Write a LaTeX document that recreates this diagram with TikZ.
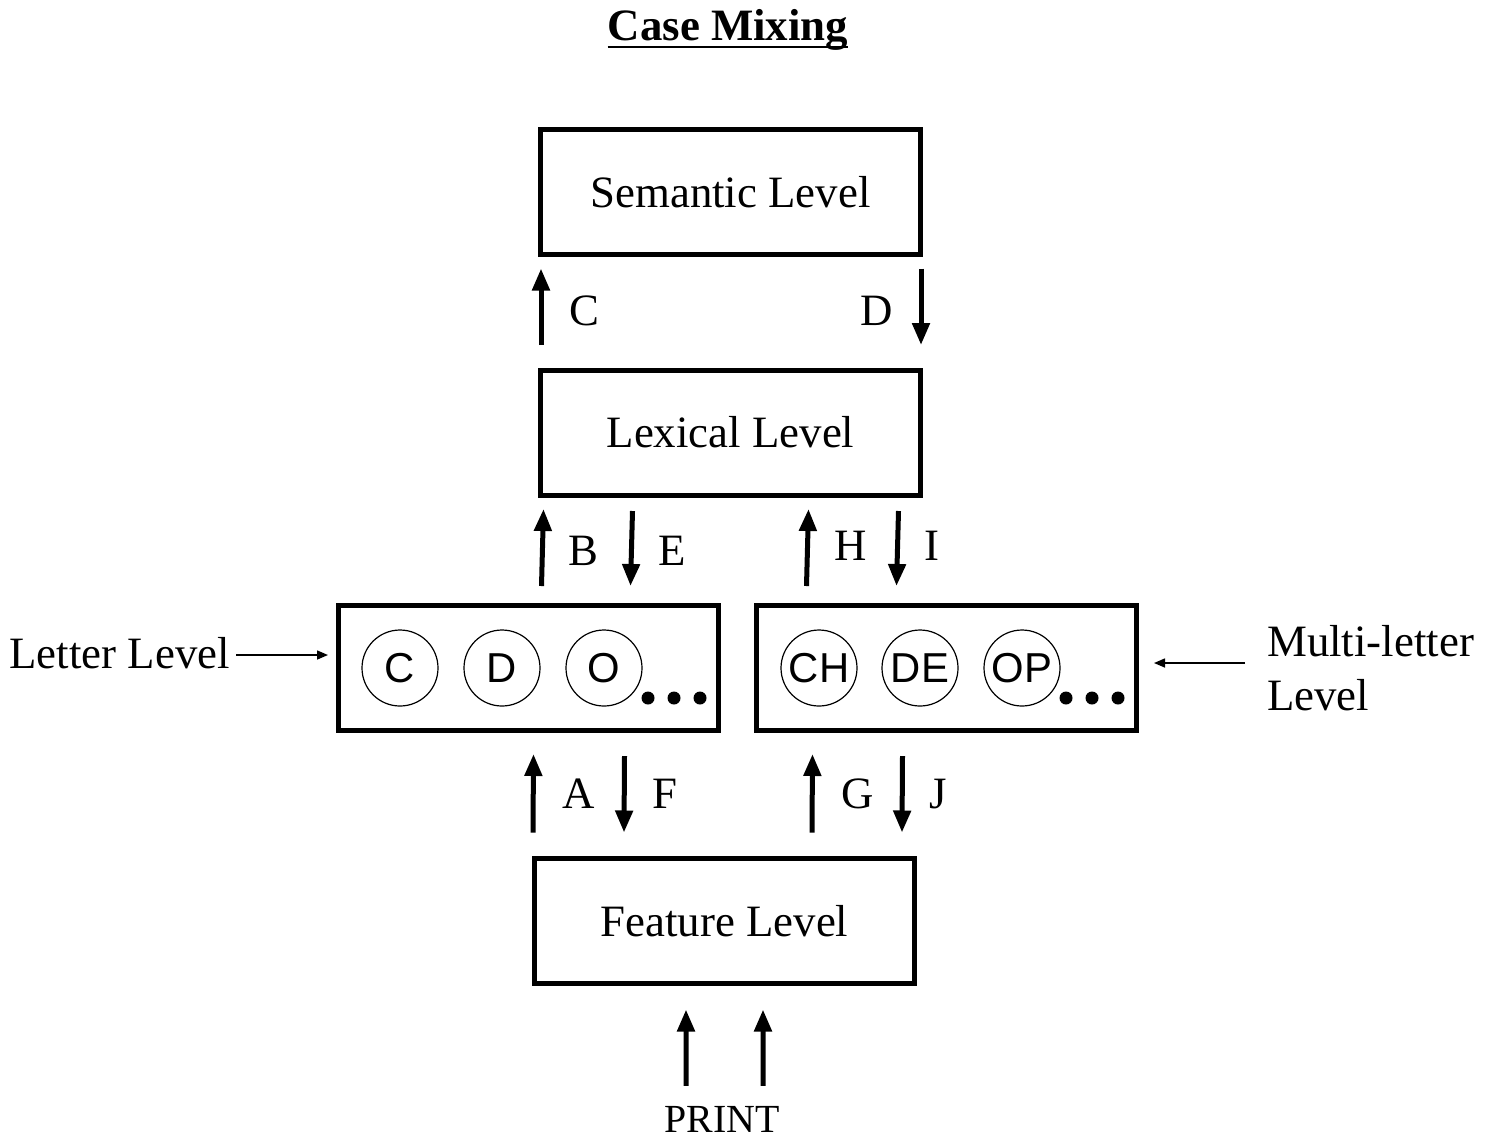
\documentclass[tikz,border=0pt]{standalone}
\usepackage{fontspec}
\setmainfont{Liberation Serif}
\newfontfamily\unitfont{Liberation Sans}
\usetikzlibrary{arrows.meta,calc}
\begin{document}
\begin{tikzpicture}[x=1bp,y=-1bp,
  level/.style={draw,line width=5bp,minimum width=380bp,minimum height=125bp,
    outer sep=0pt,inner sep=0pt,font=\fontsize{45}{48}\selectfont},
  unit/.style={draw,circle,line width=1.2bp,minimum size=76bp,inner sep=0pt,
    font=\unitfont\fontsize{42}{44}\selectfont},
  dot/.style={fill,circle,minimum size=13bp,inner sep=0pt},
  bigarrow/.style={line width=5bp,-{Triangle[width=17bp,length=22bp]}},
  thinarrow/.style={line width=1.5bp,-{Triangle[width=9bp,length=11bp]}},
  lbl/.style={inner sep=0pt,font=\fontsize{45}{48}\selectfont}]
\useasboundingbox (0,0) rectangle (1494,1139);

% title
\node[lbl,font=\bfseries\fontsize{45}{48}\selectfont,anchor=base] (title) at (728,40) {Case Mixing};
\draw[line width=2.5bp] ($(title.base west)+(0,7)$) -- ($(title.base east)+(0,7)$);

% levels
\node[level] (sem) at (730.5,192) {Semantic Level};
\node[level] (lex) at (730.5,432.5) {Lexical Level};
\node[level] (let) at (528,667.5) {};
\node[level] (mul) at (946,667.5) {};
\node[level] (fea) at (724.5,921) {Feature Level};

% letter units
\node[unit] (uc) at (400,668) {C};
\node[unit] (ud) at (502,668) {D};
\node[unit] (uo) at (604,668) {O};
\node[dot] (l1) at (648,698) {};
\node[dot] (l2) at (674,698) {};
\node[dot] (l3) at (700,698) {};

% multi-letter units
\node[unit] (uch) at (819,668) {CH};
\node[unit] (ude) at (920,668) {DE};
\node[unit] (uop) at (1022,668) {OP};
\node[dot] (m1) at (1066,698) {};
\node[dot] (m2) at (1092,698) {};
\node[dot] (m3) at (1118,698) {};

% semantic <-> lexical
\draw[bigarrow] ($(lex.north west)+(0.5,-25)$) -- ($(sem.south west)+(0.5,14)$);
\draw[bigarrow] ($(sem.south east)+(0.5,14)$) -- ($(lex.north east)+(0.5,-25)$);
\node[lbl] (lc) at (584,311) {C};
\node[lbl] (ld) at (877,311) {D};

% lexical <-> letter / multi-letter
\draw[bigarrow] ($(let.north west)+(203.5,-19)$) -- ($(lex.south west)+(3,14)$);
\draw[bigarrow] ($(lex.south west)+(92,16)$) -- ($(let.north west)+(292.5,-19)$);
\node[lbl] (lb) at (583,551) {B};
\node[lbl] (le) at (672,551) {E};
\draw[bigarrow] ($(mul.north west)+(50.5,-19)$) -- ($(lex.south west)+(268,14)$);
\draw[bigarrow] ($(lex.south west)+(358,16)$) -- ($(mul.north west)+(140.5,-19)$);
\node[lbl] (lh) at (851,546) {H};
\node[lbl] (li) at (932,546) {I};

% letter / multi-letter <-> feature
\draw[bigarrow] ($(fea.north west)+(-1.5,-26)$) -- ($(let.south west)+(195.5,24)$);
\draw[bigarrow] ($(let.south west)+(286.5,26)$) -- ($(fea.north west)+(89.5,-26)$);
\node[lbl] (la) at (579,794) {A};
\node[lbl] (lf) at (665,794) {F};
\draw[bigarrow] ($(fea.north west)+(277.5,-26)$) -- ($(mul.south west)+(56.5,24)$);
\draw[bigarrow] ($(mul.south west)+(146.5,26)$) -- ($(fea.north west)+(367.5,-26)$);
\node[lbl] (lg) at (858,794) {G};
\node[lbl] (lj) at (938,794) {J};

% print input
\node[lbl,font=\fontsize{40}{44}\selectfont] (print) at (722,1119) {PRINT};
\draw[bigarrow] ($(print.north)+(-36,-20)$) -- ($(fea.south west)+(151.5,26)$);
\draw[bigarrow] ($(print.north)+(41,-20)$) -- ($(fea.south west)+(228.5,26)$);

% side labels
\node[lbl,anchor=east] (letlbl) at (230,653) {Letter Level};
\draw[thinarrow] (letlbl.east) ++(6,2) coordinate (la0) -- ($(let.west |- la0)+(-10,0)$);
\node[lbl,anchor=west,align=left,font=\fontsize{45}{54}\selectfont] (mullbl) at (1267,668) {Multi-letter\\Level};
\coordinate (ma0) at ($(mullbl.west)+(-22,-5)$);
\draw[thinarrow] (ma0) -- ($(mul.east |- ma0)+(18,0)$);
\end{tikzpicture}
\end{document}
